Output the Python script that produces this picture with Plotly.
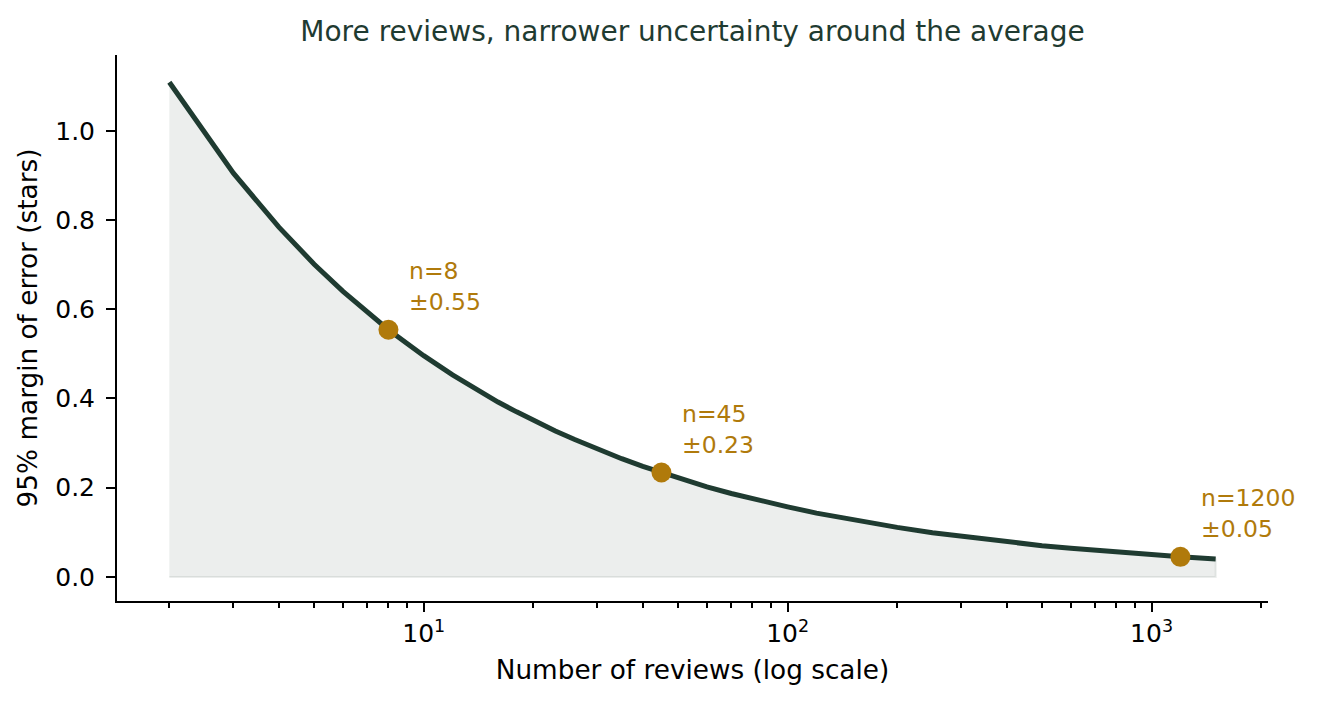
import math
import plotly.graph_objects as go

# Data
reviews = [2, 3, 4, 5, 6, 7, 8, 9, 10, 12, 14, 16, 18, 20, 23, 26, 30, 35, 40, 45,
           50, 60, 70, 80, 90, 100, 120, 140, 160, 180, 200, 250, 300, 350, 400,
           500, 600, 700, 800, 1000, 1200, 1500]
margin = [1.109, 0.905, 0.784, 0.701, 0.640, 0.593, 0.554, 0.523, 0.496, 0.453,
          0.419, 0.392, 0.370, 0.351, 0.327, 0.308, 0.286, 0.265, 0.248, 0.234,
          0.222, 0.202, 0.187, 0.175, 0.165, 0.157, 0.143, 0.133, 0.124, 0.117,
          0.111, 0.099, 0.091, 0.084, 0.078, 0.070, 0.064, 0.059, 0.055, 0.050,
          0.045, 0.040]

highlight_n = [8, 45, 1200]
highlight_m = [0.554, 0.234, 0.045]
highlight_labels = ["n=8<br>±0.55", "n=45<br>±0.23", "n=1200<br>±0.05"]

major_ticks = [10, 100, 1000]
major_labels = ["10<sup>1</sup>", "10<sup>2</sup>", "10<sup>3</sup>"]
minor_ticks = [2, 3, 4, 5, 6, 7, 8, 9, 20, 30, 40, 50, 60, 70, 80, 90,
               200, 300, 400, 500, 600, 700, 800, 900, 2000]
y_ticks = [0.0, 0.2, 0.4, 0.6, 0.8, 1.0]

LINE = "#1f3b31"
GOLD = "#b07a0b"
FONT = "DejaVu Sans"

W, H = 1310, 697  # page body has an 8px default margin

fig = go.Figure()

# shaded band (fill between curve and zero)
fig.add_trace(go.Scatter(
    x=reviews + reviews[::-1],
    y=margin + [0] * len(reviews),
    fill="toself",
    fillcolor="rgba(31,59,49,0.085)",
    line=dict(color="rgba(31,59,49,0.09)", width=2),
    mode="lines",
    hoverinfo="skip",
    showlegend=False,
))

fig.add_trace(go.Scatter(
    x=reviews, y=margin, mode="lines",
    line=dict(color=LINE, width=5),
    showlegend=False,
))

fig.add_trace(go.Scatter(
    x=highlight_n, y=highlight_m, mode="markers",
    marker=dict(color=GOLD, size=20, line=dict(width=0)),
    showlegend=False,
))

for n, m, lab in zip(highlight_n, highlight_m, highlight_labels):
    fig.add_annotation(
        x=math.log10(n), y=m, xref="x", yref="y", text=lab, showarrow=False,
        xanchor="left", yanchor="bottom", align="left",
        xshift=19, yshift=12,
        font=dict(family=FONT, size=23.5, color=GOLD),
    )

fig.update_layout(
    width=W, height=H,
    margin=dict(l=109, r=50, t=47, b=104),
    paper_bgcolor="white", plot_bgcolor="white",
    font=dict(family=FONT, size=25, color="black"),
    title=dict(
        text="More reviews, narrower uncertainty around the average",
        x=0.5, xref="paper", xanchor="center",
        y=1 - 23 / H, yref="container", yanchor="middle",
        font=dict(family=FONT, size=28, color=LINE),
    ),
)

fig.update_xaxes(
    type="log", range=[0.1572, 3.3199],
    showline=True, linecolor="black", linewidth=2,
    showgrid=False, zeroline=False,
    tickmode="array", tickvals=major_ticks, ticktext=major_labels,
    ticks="outside", ticklen=9, tickwidth=2, tickcolor="black",
    tickfont=dict(family=FONT, size=25, color="black"),
    minor=dict(tickmode="array", tickvals=minor_ticks, ticks="outside",
               ticklen=5, tickwidth=1.5, tickcolor="black", showgrid=False),
    title=dict(text="Number of reviews (log scale)",
               font=dict(family=FONT, size=26.3, color="black"), standoff=14),
)

fig.update_yaxes(
    range=[-0.054, 1.170],
    showline=True, linecolor="black", linewidth=2,
    showgrid=False, zeroline=False,
    tickmode="array", tickvals=y_ticks, tickformat=".1f",
    ticks="outside", ticklen=9, tickwidth=2, tickcolor="black",
    ticklabelstandoff=6,
    tickfont=dict(family=FONT, size=25, color="black"),
    title=dict(text="95% margin of error (stars)",
               font=dict(family=FONT, size=26.3, color="black"), standoff=10),
)

fig.write_html("out.html")
